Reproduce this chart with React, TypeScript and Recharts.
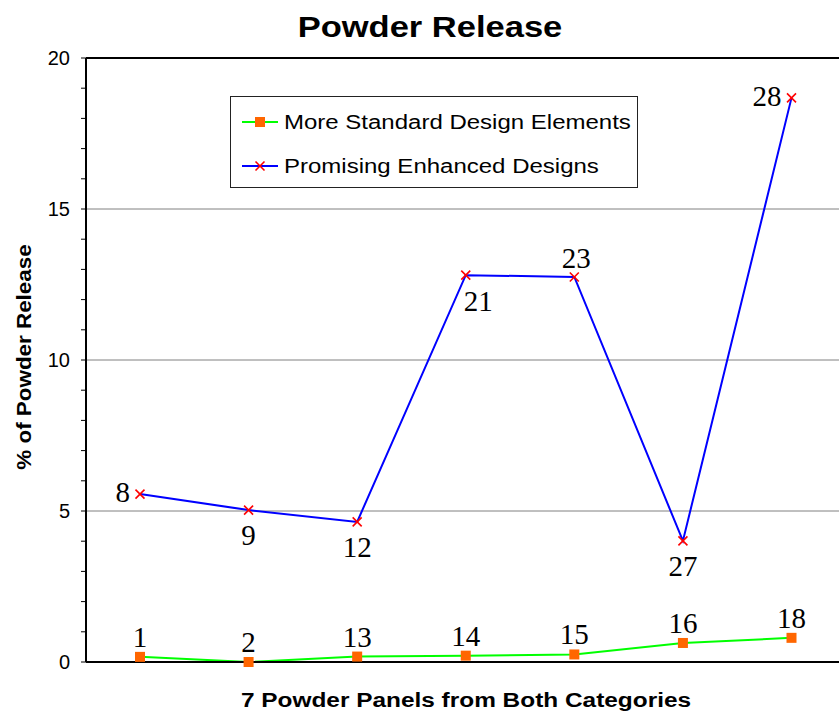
import React from 'react';
import { LineChart, Line, XAxis, YAxis, ReferenceLine, LabelList } from 'recharts';

const categories = ['Panel 1', 'Panel 2', 'Panel 3', 'Panel 4', 'Panel 5', 'Panel 6', 'Panel 7'];
const standardValues = [0.17, 0.0, 0.18, 0.21, 0.25, 0.63, 0.8];
const enhancedValues = [5.56, 5.03, 4.64, 12.81, 12.75, 4.01, 18.68];
const standardIds = ['1', '2', '13', '14', '15', '16', '18'];
const enhancedIds = ['8', '9', '12', '21', '23', '27', '28'];
const seriesNames = ['More Standard Design Elements', 'Promising Enhanced Designs'];
const yTicks = [0, 1, 2, 3, 4, 5, 6, 7, 8, 9, 10, 11, 12, 13, 14, 15, 16, 17, 18, 19, 20];
const gridValues = [5, 10, 15];

// where each panel number sits next to its point on the enhanced line
const enhancedLabelSide = ['left', 'below', 'below', 'belowRight', 'above', 'below', 'left'];

const data = categories.map((c, i) => ({
  category: c,
  standard: standardValues[i],
  enhanced: enhancedValues[i]
}));

const SANS = "'Liberation Sans', Arial, sans-serif";
const SERIF = "'Liberation Serif', 'Times New Roman', serif";

const SquareDot = (props: any) => {
  const { cx, cy, index } = props;
  return <rect key={`sq-${index}`} x={cx - 5} y={cy - 5} width={10} height={10} fill="#FF6600" />;
};

const CrossDot = (props: any) => {
  const { cx, cy, index } = props;
  return (
    <g key={`cr-${index}`}>
      <line x1={cx - 4.5} y1={cy - 4.5} x2={cx + 4.5} y2={cy + 4.5} stroke="#FF0000" strokeWidth={1.6} />
      <line x1={cx - 4.5} y1={cy + 4.5} x2={cx + 4.5} y2={cy - 4.5} stroke="#FF0000" strokeWidth={1.6} />
    </g>);
};

const placeLabel = (x: number, y: number, side: string) => {
  switch (side) {
    case 'left':
      return { x: x - 10, y: y + 8, anchor: 'end' };
    case 'below':
      return { x: x, y: y + 35, anchor: 'middle' };
    case 'belowRight':
      return { x: x - 2, y: y + 36, anchor: 'start' };
    default:
      return { x: x + 2, y: y - 9, anchor: 'middle' };
  }
};

const standardLabel = (props: any) => {
  const { x, y, index } = props;
  return (
    <text key={`sl-${index}`} x={x} y={y - 10} textAnchor="middle" fontFamily={SERIF} fontSize={29} fill="#000">
      {standardIds[index]}
    </text>);
};

const enhancedLabel = (props: any) => {
  const { x, y, index } = props;
  const p = placeLabel(x, y, enhancedLabelSide[index]);
  return (
    <text key={`el-${index}`} x={p.x} y={p.y} textAnchor={p.anchor as any} fontFamily={SERIF} fontSize={29} fill="#000">
      {enhancedIds[index]}
    </text>);
};

function LegendBox() {
  const markers = [
    <rect x={13} y={1} width={10} height={10} fill="#FF6600" />,
    <g>
      <line x1={13.5} y1={1.5} x2={22.5} y2={10.5} stroke="#FF0000" strokeWidth={1.6} />
      <line x1={13.5} y1={10.5} x2={22.5} y2={1.5} stroke="#FF0000" strokeWidth={1.6} />
    </g>];
  const colors = ['#00FF00', '#0000FF'];
  return (
    <div
      style={{
        position: 'absolute',
        left: 230,
        top: 96,
        width: 408,
        height: 92,
        border: '1px solid #222',
        background: '#fff',
        boxSizing: 'border-box'
      }}>
      {seriesNames.map((name, i) =>
      <div key={name} style={{ position: 'absolute', left: 11, top: 14 + i * 44, height: 22, display: 'flex', alignItems: 'center' }}>
          <svg width={36} height={12}>
            <line x1={0} y1={6} x2={36} y2={6} stroke={colors[i]} strokeWidth={2} />
            {markers[i]}
          </svg>
          <span
          style={{
            display: 'inline-block',
            marginLeft: 6,
            fontFamily: SANS,
            fontSize: 20,
            color: '#000',
            whiteSpace: 'nowrap',
            transform: 'scaleX(1.2)',
            transformOrigin: 'left center'
          }}>
            {name}
          </span>
        </div>
      )}
    </div>);
}

export default function App() {
  return (
    <div style={{ position: 'absolute', left: 0, top: 0, width: 839, height: 715, overflow: 'hidden', background: '#fff' }}>
      <div
        style={{
          position: 'absolute',
          left: 430,
          top: 12,
          transform: 'translateX(-50%) scaleX(1.15)',
          fontFamily: SANS,
          fontWeight: 'bold',
          fontSize: 30,
          lineHeight: 1,
          whiteSpace: 'nowrap'
        }}>
        Powder Release
      </div>
      <LineChart width={860} height={715} data={data} margin={{ top: 58, right: 14.5, bottom: 52, left: 0 }}>
        <XAxis
          dataKey="category"
          tick={false}
          tickLine={false}
          height={1}
          axisLine={{ stroke: '#000', strokeWidth: 2 }}
          padding={{ left: 54, right: 54 }} />
        <YAxis
          width={86}
          domain={[0, 20]}
          ticks={yTicks}
          interval={0}
          tickSize={5}
          tickMargin={11}
          tickLine={{ stroke: '#000', strokeWidth: 1 }}
          axisLine={{ stroke: '#000', strokeWidth: 2 }}
          tick={{ fill: '#000', fontSize: 20, fontFamily: SANS }}
          tickFormatter={(v: number) => v % 5 === 0 ? String(v) : ''} />
        {gridValues.map((g) =>
        <ReferenceLine key={g} y={g} stroke="#808080" strokeWidth={1} />
        )}
        <ReferenceLine y={20} stroke="#000" strokeWidth={2} />
        <Line
          type="linear"
          dataKey="standard"
          name={seriesNames[0]}
          stroke="#00FF00"
          strokeWidth={2}
          dot={SquareDot}
          activeDot={false}
          isAnimationActive={false}>
          <LabelList dataKey="standard" content={standardLabel} />
        </Line>
        <Line
          type="linear"
          dataKey="enhanced"
          name={seriesNames[1]}
          stroke="#0000FF"
          strokeWidth={2}
          dot={CrossDot}
          activeDot={false}
          isAnimationActive={false}>
          <LabelList dataKey="enhanced" content={enhancedLabel} />
        </Line>
      </LineChart>
      <LegendBox />
      <div
        style={{
          position: 'absolute',
          left: 24,
          top: 357,
          transform: 'translate(-50%, -50%) rotate(-90deg) scaleX(1.12)',
          fontFamily: SANS,
          fontWeight: 'bold',
          fontSize: 20,
          lineHeight: 1,
          whiteSpace: 'nowrap'
        }}>
        % of Powder Release
      </div>
      <div
        style={{
          position: 'absolute',
          left: 466,
          top: 690,
          transform: 'translateX(-50%) scaleX(1.22)',
          fontFamily: SANS,
          fontWeight: 'bold',
          fontSize: 20,
          lineHeight: 1,
          whiteSpace: 'nowrap'
        }}>
        7 Powder Panels from Both Categories
      </div>
    </div>);
}
